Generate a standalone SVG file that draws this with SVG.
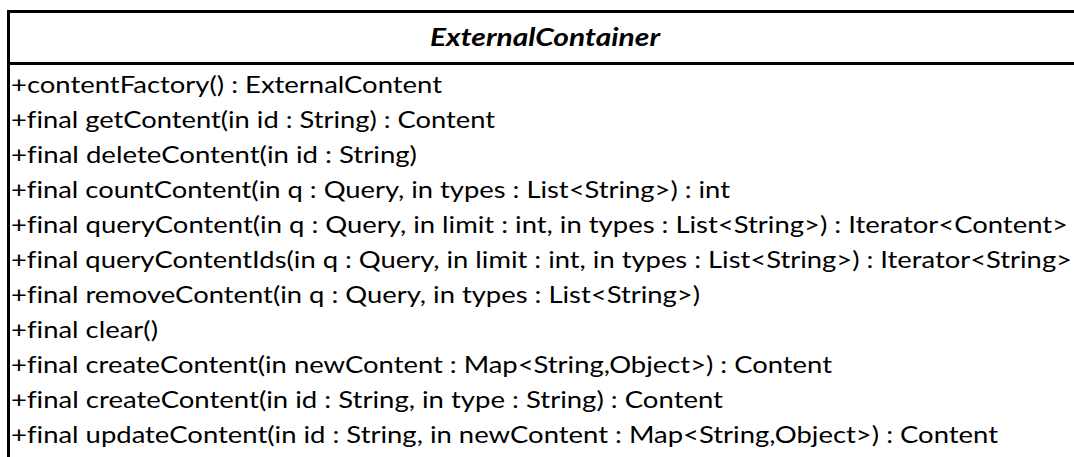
<svg xmlns="http://www.w3.org/2000/svg" width="1074" height="457" viewBox="0 0 1074 457">
  <style>
    .frame { fill: none; stroke: #000; stroke-width: 3; }
    .title { font-family: Lato, "Liberation Sans", sans-serif; font-size: 24px; font-weight: bold; font-style: italic; fill: #000; font-variant-ligatures: none; }
    .op { font-family: Lato, "Liberation Sans", sans-serif; font-size: 24px; fill: #000; font-variant-ligatures: none; }
  </style>
  <rect width="1074" height="457" fill="#fff"/>
  <g id="ExternalContainer">
    <!-- class box: open to the right and bottom -->
    <path class="frame" d="M1080,11.5 H8.5 V460"/>
    <line class="frame" x1="8.5" y1="63.5" x2="1080" y2="63.5"/>
    <text class="title" x="430" y="46" textLength="230" lengthAdjust="spacingAndGlyphs">ExternalContainer</text>
    <g class="op">
      <text x="11" y="93" textLength="431" lengthAdjust="spacingAndGlyphs">+contentFactory() : ExternalContent</text>
      <text x="11" y="128" textLength="484" lengthAdjust="spacingAndGlyphs">+final getContent(in id : String) : Content</text>
      <text x="11" y="163" textLength="406" lengthAdjust="spacingAndGlyphs">+final deleteContent(in id : String)</text>
      <text x="11" y="198" textLength="719" lengthAdjust="spacingAndGlyphs">+final countContent(in q : Query, in types : List&lt;String&gt;) : int</text>
      <text x="11" y="233" textLength="1057" lengthAdjust="spacingAndGlyphs">+final queryContent(in q : Query, in limit : int, in types : List&lt;String&gt;) : Iterator&lt;Content&gt;</text>
      <text x="11" y="268" textLength="1061" lengthAdjust="spacingAndGlyphs">+final queryContentIds(in q : Query, in limit : int, in types : List&lt;String&gt;) : Iterator&lt;String&gt;</text>
      <text x="11" y="303" textLength="689" lengthAdjust="spacingAndGlyphs">+final removeContent(in q : Query, in types : List&lt;String&gt;)</text>
      <text x="11" y="338" textLength="147" lengthAdjust="spacingAndGlyphs">+final clear()</text>
      <text x="11" y="373" textLength="821" lengthAdjust="spacingAndGlyphs">+final createContent(in newContent : Map&lt;String,Object&gt;) : Content</text>
      <text x="11" y="408" textLength="712" lengthAdjust="spacingAndGlyphs">+final createContent(in id : String, in type : String) : Content</text>
      <text x="11" y="443" textLength="987" lengthAdjust="spacingAndGlyphs">+final updateContent(in id : String, in newContent : Map&lt;String,Object&gt;) : Content</text>
    </g>
  </g>
  <g id="connectors"/>
</svg>
